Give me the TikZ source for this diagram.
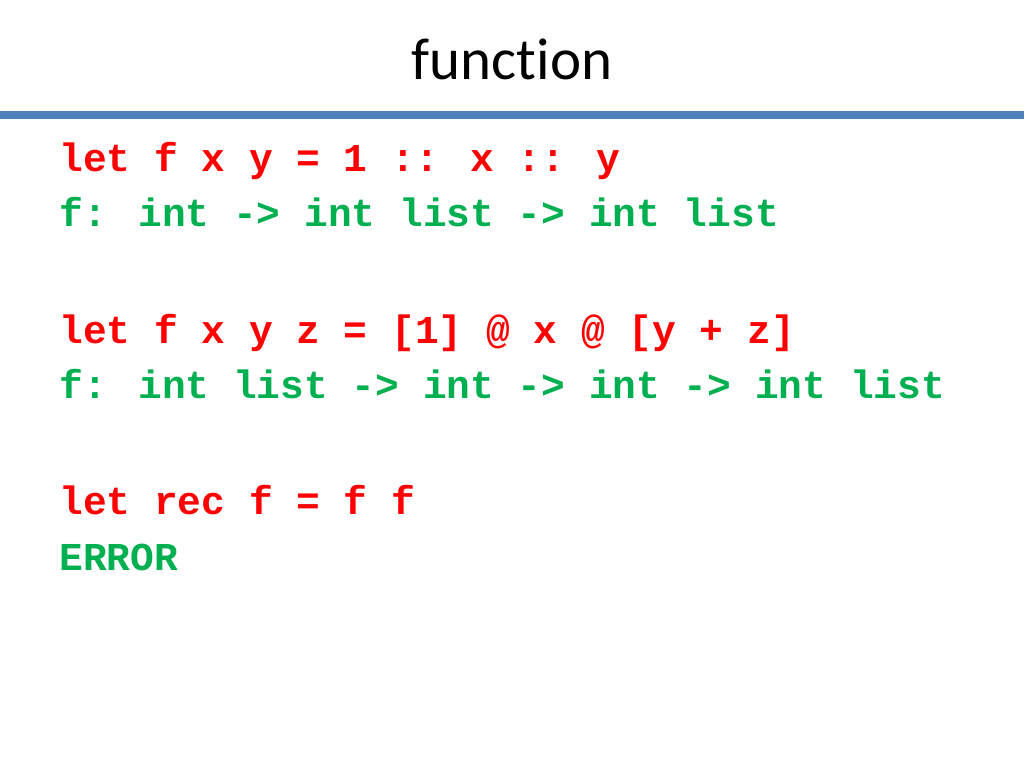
\documentclass[tikz,border=0pt]{standalone}
\usepackage{fontspec}
\setmainfont[Ligatures={NoCommon}]{Carlito}
\newfontfamily\codefont{Liberation Mono}
\usetikzlibrary{positioning}
\definecolor{rulecol}{RGB}{79,129,189}
\definecolor{codered}{RGB}{255,0,0}
\definecolor{typegreen}{RGB}{0,176,80}
\tikzset{%
	heading/.style  = {anchor=base, font=\fontsize{41.5}{48}\selectfont, text=black, inner sep=0pt},
	codeline/.style = {anchor=base west, font=\codefont\bfseries\fontsize{27.8}{32}\selectfont, text=codered, inner sep=0pt},
	typeline/.style = {codeline, text=typegreen},
}
\begin{document}
\begin{tikzpicture}[x=0.703125pt,y=-0.703125pt]
	\useasboundingbox (0,0) rectangle (1024,768);
	\node[heading] (title) at (512,80) {function};
	\draw[rulecol, line width=5.6pt] (0,115) -- (1024,115);  % title rule
	
	\node[codeline] (def1) at (59,172) {let f x y = 1 :: x :: y};
	\node[typeline] (ty1)  at (59,227) {f: int -> int list -> int list};
	
	\node[codeline] (def2) at (59,343) {let f x y z = [1] @ x @ [y + z]};
	\node[typeline] (ty2)  at (59,398) {f: int list -> int -> int -> int list};
	
	\node[codeline] (def3) at (59,514) {let rec f = f f};
	\node[typeline] (ty3)  at (59,570) {ERROR};
\end{tikzpicture}
\end{document}
